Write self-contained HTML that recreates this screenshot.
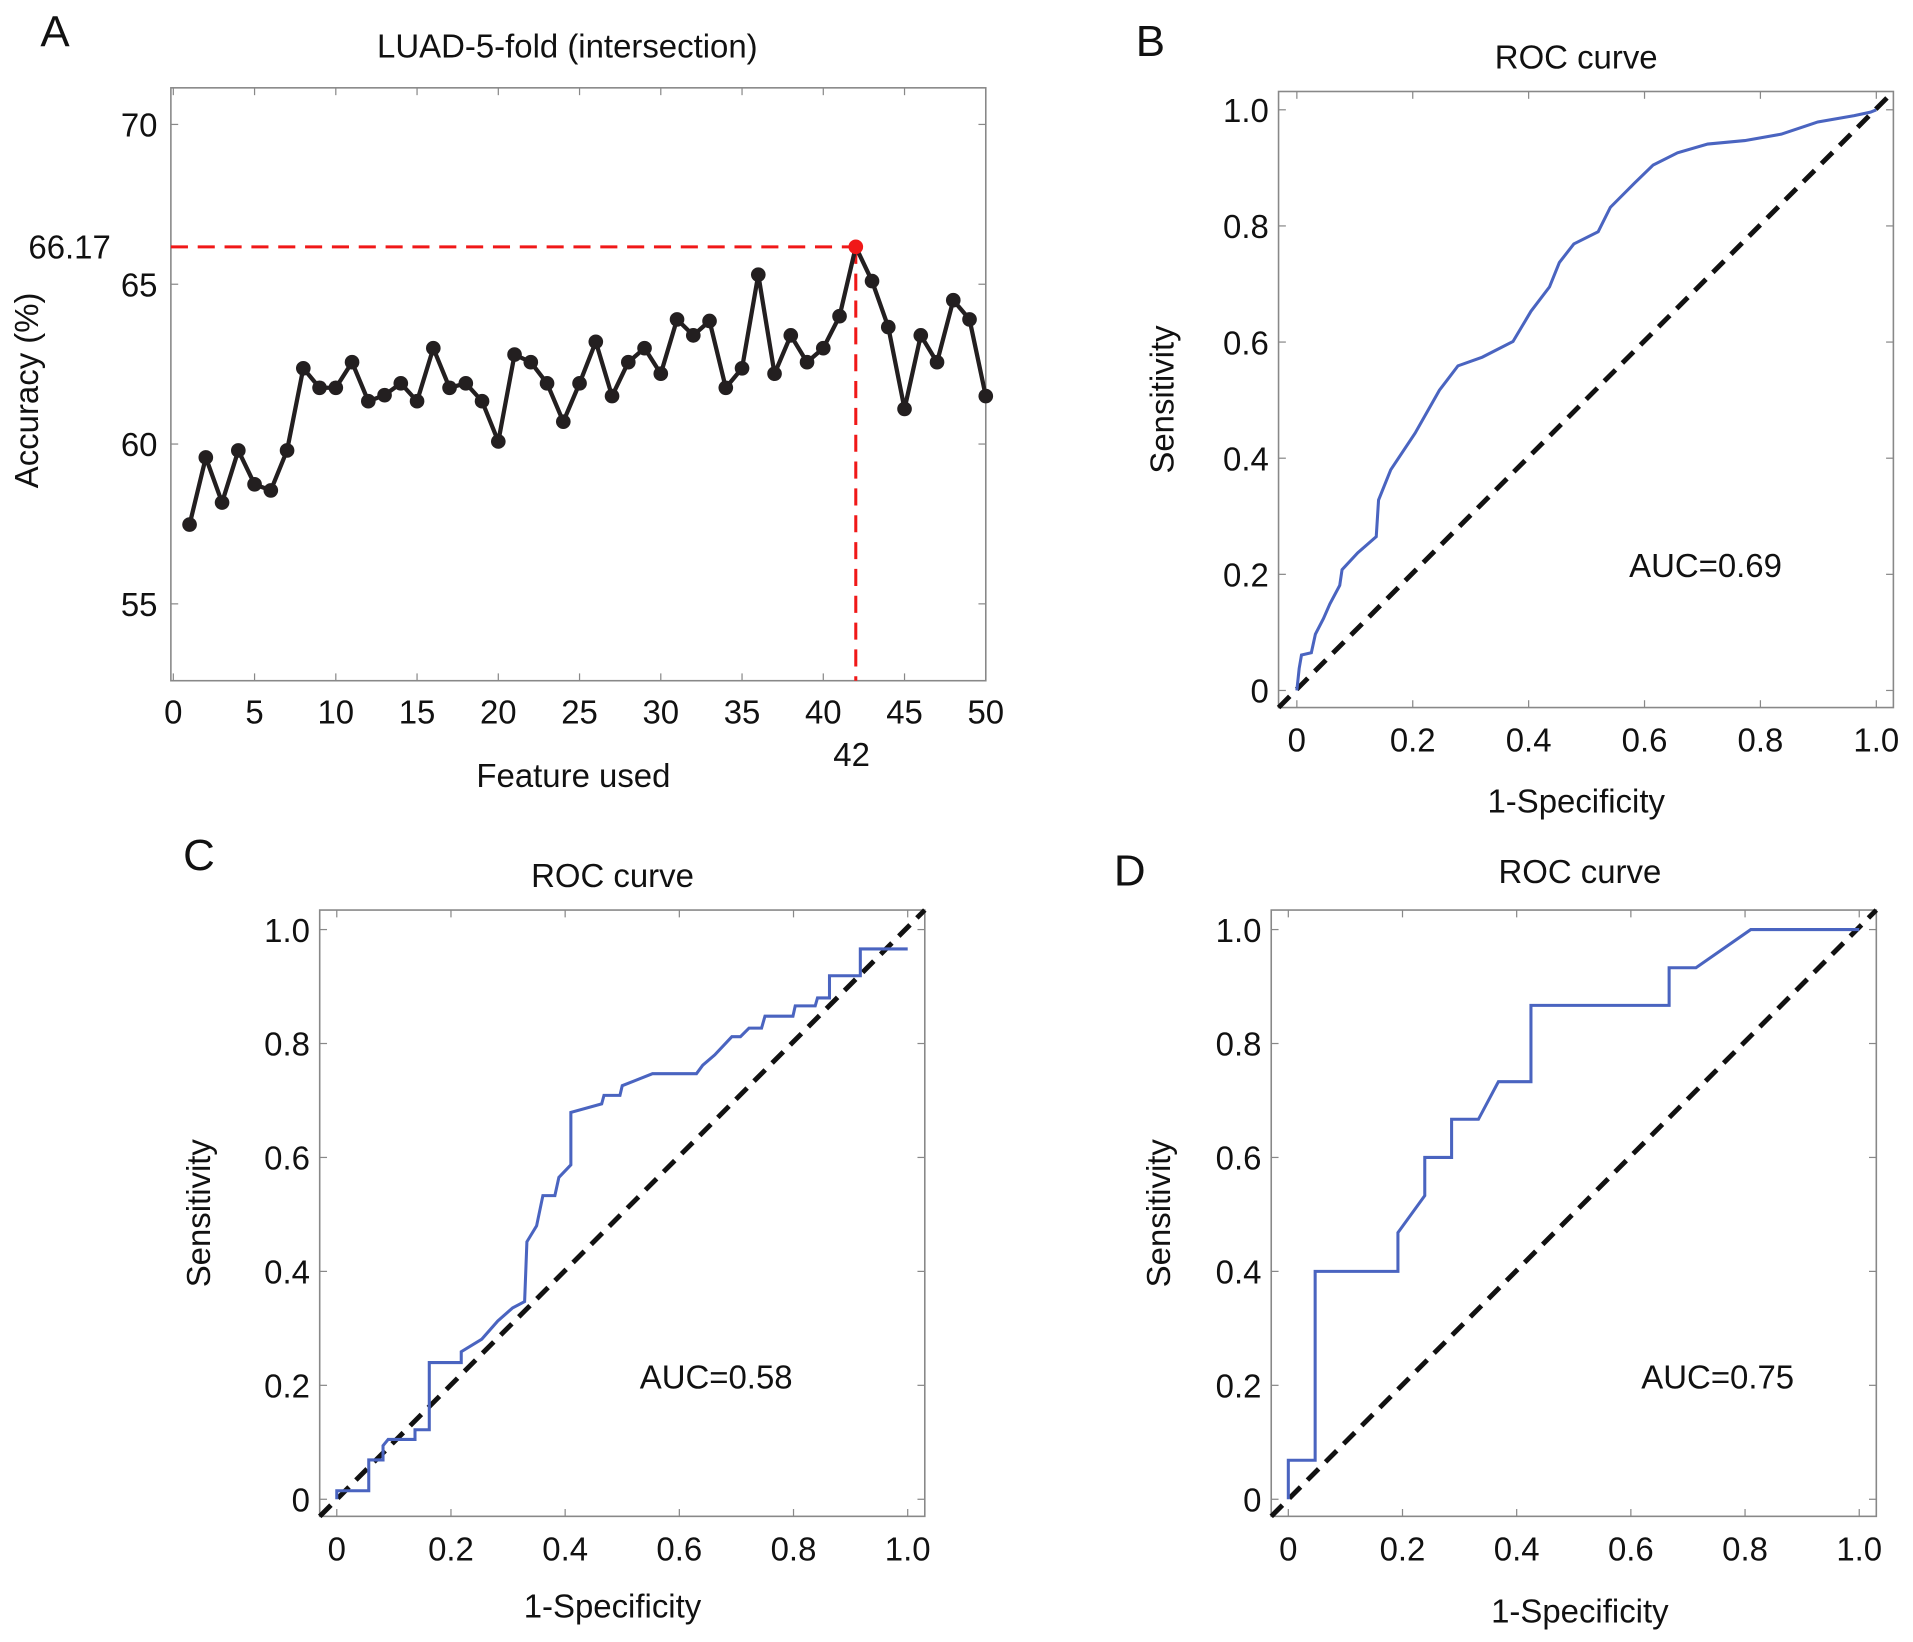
<!DOCTYPE html>
<html><head><meta charset="utf-8"><style>
html,body{margin:0;padding:0;background:#fff;}
svg{display:block;font-family:"Liberation Sans",sans-serif;}
</style></head><body>
<svg id="fig" width="1913" height="1642" viewBox="0 0 1568 1346" xmlns="http://www.w3.org/2000/svg"></svg>
<script>
// Panel A data
const featureCounts = Array.from({length:50},(_,i)=>i+1);
const accuracyValues = [57.48,59.58,58.17,59.8,58.74,58.55,59.8,62.37,61.76,61.76,62.56,61.34,61.53,61.9,61.34,63.0,61.76,61.9,61.34,60.08,62.8,62.56,61.9,60.7,61.9,63.2,61.5,62.56,63.0,62.2,63.9,63.4,63.85,61.76,62.37,65.3,62.2,63.4,62.56,63.0,64.0,66.17,65.1,63.66,61.1,63.4,62.56,64.5,63.9,61.5];
const bestFeature = 42;
const bestAccuracy = 66.17;
const aXTicks = [0,5,10,15,20,25,30,35,40,45,50];
const aYTicks = [55,60,65,70];
// ROC data
const rocBFpr = [0,0.004,0.008,0.025,0.032,0.046,0.057,0.074,0.078,0.105,0.137,0.141,0.162,0.204,0.246,0.278,0.320,0.373,0.404,0.436,0.453,0.478,0.520,0.541,0.583,0.615,0.657,0.709,0.773,0.836,0.899,0.962,0.99,1];
const rocBTpr = [0,0.038,0.061,0.065,0.097,0.124,0.149,0.181,0.208,0.237,0.265,0.328,0.380,0.443,0.517,0.559,0.574,0.601,0.653,0.695,0.737,0.769,0.790,0.832,0.874,0.905,0.926,0.941,0.947,0.958,0.979,0.99,0.996,1];
const rocCFpr = [0,0,0.056,0.056,0.081,0.081,0.09,0.137,0.137,0.162,0.162,0.218,0.218,0.254,0.282,0.308,0.329,0.333,0.350,0.361,0.382,0.389,0.410,0.410,0.464,0.468,0.496,0.5,0.553,0.630,0.641,0.662,0.692,0.707,0.722,0.744,0.750,0.799,0.803,0.838,0.842,0.863,0.863,0.917,0.917,1,1];
const rocCTpr = [0,0.015,0.015,0.069,0.069,0.094,0.105,0.105,0.122,0.122,0.24,0.24,0.259,0.281,0.313,0.336,0.347,0.452,0.480,0.533,0.533,0.565,0.587,0.679,0.694,0.709,0.709,0.726,0.747,0.747,0.762,0.780,0.812,0.812,0.827,0.827,0.848,0.848,0.866,0.866,0.880,0.880,0.919,0.919,0.966,0.966,0.966];
const rocDFpr = [0,0,0.047,0.047,0.192,0.192,0.239,0.239,0.286,0.286,0.333,0.368,0.425,0.425,0.667,0.667,0.714,0.81,1];
const rocDTpr = [0,0.0685,0.0685,0.4,0.4,0.468,0.533,0.6,0.6,0.667,0.667,0.733,0.733,0.867,0.867,0.933,0.933,1,1];
const rocTicks = [0,0.2,0.4,0.6,0.8,1.0];
const rocTickLabels = ["0","0.2","0.4","0.6","0.8","1.0"];

const FS=27;
const svg=document.getElementById('fig');
const NS='http://www.w3.org/2000/svg';
function mk(tag,attrs,parent){const e=document.createElementNS(NS,tag);for(const k in attrs)e.setAttribute(k,attrs[k]);(parent||svg).appendChild(e);return e;}
function txt(s,x,y,size,anchor,parent,rot){const t=mk('text',{x:x,y:y,'font-size':size,'text-anchor':anchor||'middle',fill:'#111'},parent);if(rot)t.setAttribute('transform',`rotate(-90 ${x} ${y})`);t.textContent=s;return t;}

function axesFrame(g,L,T,R,B,xs,ys,xt,yt){
  mk('rect',{x:L,y:T,width:R-L,height:B-T,fill:'none',stroke:'#888','stroke-width':1.3},g);
  xt.forEach(v=>{const x=xs(v);mk('line',{x1:x,x2:x,y1:B,y2:B-6,stroke:'#888'},g);mk('line',{x1:x,x2:x,y1:T,y2:T+6,stroke:'#888'},g);});
  yt.forEach(v=>{const y=ys(v);mk('line',{x1:L,x2:L+6,y1:y,y2:y,stroke:'#888'},g);mk('line',{x1:R,x2:R-6,y1:y,y2:y,stroke:'#888'},g);});
}

// Panel A
(function(){
  const g=mk('g',{});
  
  
  const L=140,T=72,R=808,B=558;
  const xs=v=>142+(v)*(808-142)/50;
  const ys=v=>102+(70-v)*(495-102)/15;
  axesFrame(g,L,T,R,B,xs,ys,aXTicks,aYTicks);
  aXTicks.forEach(v=>{const t=txt(String(v),xs(v),593,FS,'middle',g);});
  aYTicks.forEach(v=>{const t=txt(String(v),129,ys(v)+10,FS,'end',g);});
  const hx=xs(bestFeature),hy=ys(bestAccuracy);
  const h=mk('line',{x1:L,x2:hx,y1:hy,y2:hy,stroke:'#f01818','stroke-width':2.5,'stroke-dasharray':'14 8'},g);
  
  const v=mk('line',{x1:hx,x2:hx,y1:hy,y2:B,stroke:'#f01818','stroke-width':2.5,'stroke-dasharray':'14 8'},g);
  
  const pts=featureCounts.map((f,i)=>xs(f)+','+ys(accuracyValues[i])).join(' ');
  const pl=mk('polyline',{points:pts,fill:'none',stroke:'#231f20','stroke-width':3.5},g);
  
  featureCounts.forEach((f,i)=>{if(f===bestFeature)return;const c=mk('circle',{cx:xs(f),cy:ys(accuracyValues[i]),r:6,fill:'#231f20'},g);
    });
  const bp=mk('circle',{cx:hx,cy:hy,r:6,fill:'#f01818'},g);
  
  txt('66.17',57,212,FS,'middle',g);
  txt('42',698,628,FS,'middle',g);
  txt('LUAD-5-fold (intersection)',465,47,FS,'middle',g);
  txt('Feature used',470,645,FS,'middle',g);
  txt('Accuracy (%)',31,320,FS,'middle',g,true);
  txt('A',45,38,36,'middle',g);
})();

function rocPanel(name,letter,lx,ly,L,T,R,B,x0,x1,y0,y1,fpr,tpr,auc,aucX,aucY,titleX,titleY,xLabY,yLabX){
  const g=mk('g',{});
  
  
  const xs=v=>x0+v*(x1-x0);
  const ys=v=>y0+v*(y1-y0);
  axesFrame(g,L,T,R,B,xs,ys,rocTicks,rocTicks);
  rocTicks.forEach((v,i)=>{const t=txt(rocTickLabels[i],xs(v),B+36,FS,'middle',g);
    const u=txt(rocTickLabels[i],L-8,ys(v)+10,FS,'end',g);});
  const d=mk('line',{x1:L,y1:B,x2:R,y2:T,stroke:'#111','stroke-width':4,'stroke-dasharray':'13 8'},g);
  
  const pts=fpr.map((f,i)=>xs(f)+','+ys(tpr[i])).join(' ');
  const pl=mk('polyline',{points:pts,fill:'none',stroke:'#4a64c0','stroke-width':2.5},g);
  
  txt(auc,aucX,aucY,FS,'middle',g);
  txt('ROC curve',titleX,titleY,FS,'middle',g);
  txt('1-Specificity',titleX,xLabY,FS,'middle',g);
  txt('Sensitivity',yLabX,(T+B)/2,FS,'middle',g,true);
  txt(letter,lx,ly,36,'middle',g);
}
rocPanel('panel-b-roc','B',943,46,1048,75,1552,580,1063,1538,566,90,rocBFpr,rocBTpr,'AUC=0.69',1398,473,1292,56,666,962);
rocPanel('panel-c-roc','C',163,713,262,746,758,1243,276,744,1229,762,rocCFpr,rocCTpr,'AUC=0.58',587,1138,502,727,1326,172);
rocPanel('panel-d-roc','D',926,726,1042,746,1538,1243,1056,1524,1229,762,rocDFpr,rocDTpr,'AUC=0.75',1408,1138,1295,724,1330,959);
</script>
</body></html>
